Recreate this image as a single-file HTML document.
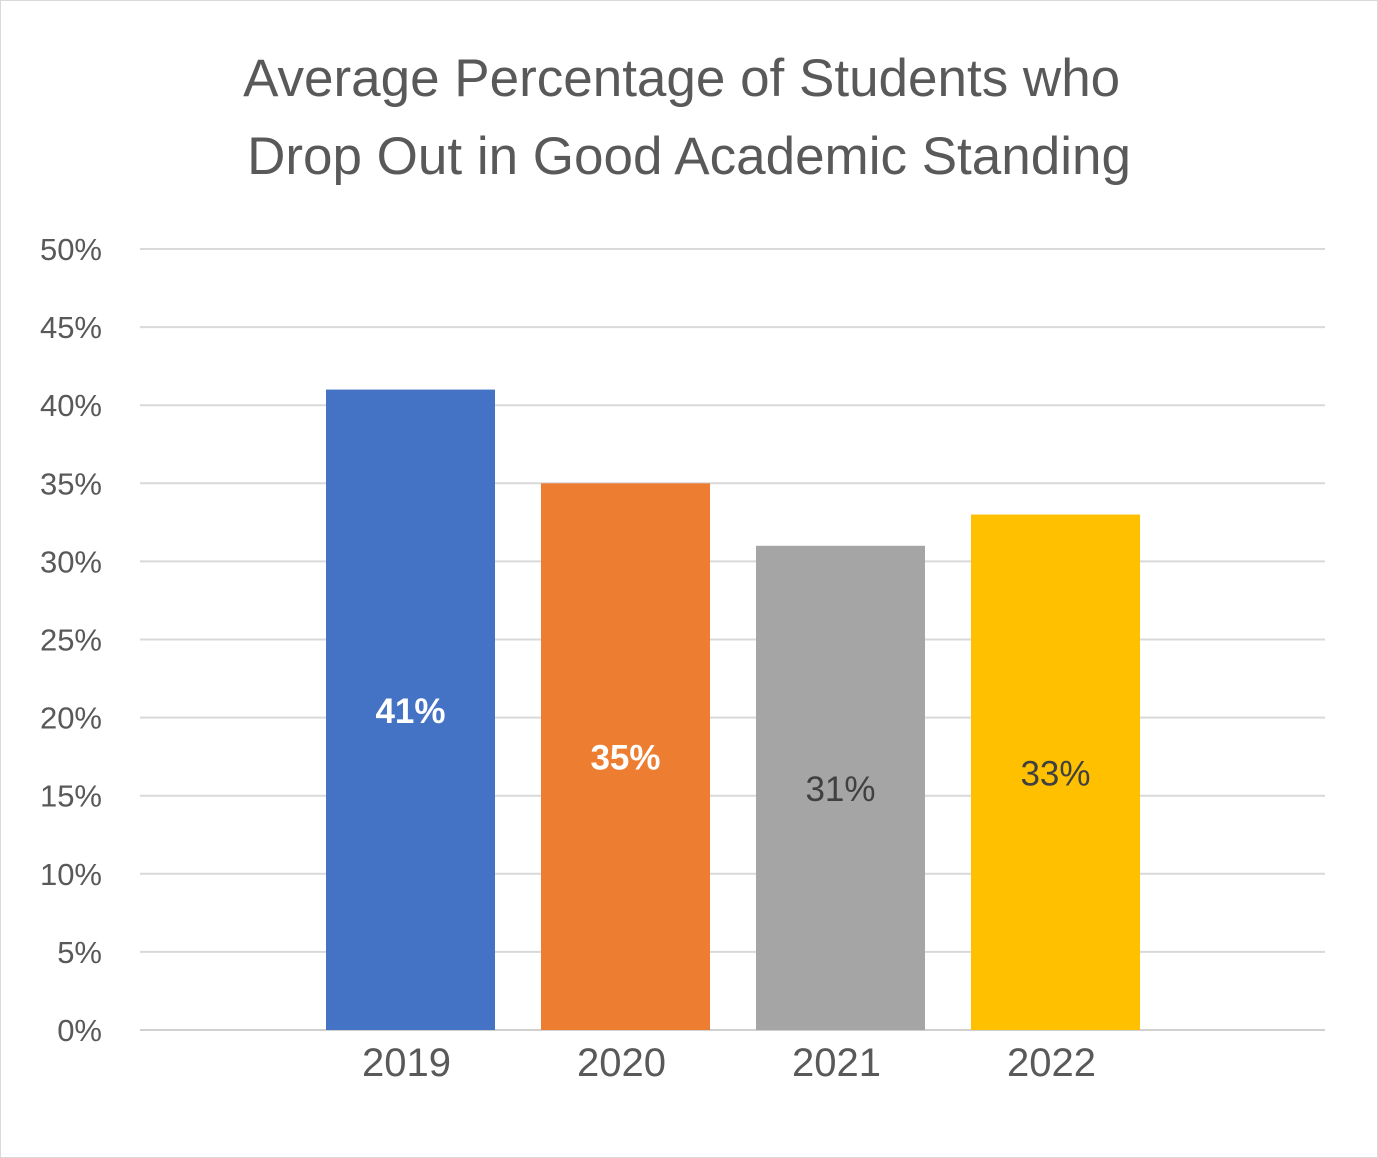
<!DOCTYPE html>
<html><head><meta charset="utf-8"><style>
html,body{margin:0;padding:0;background:#fff;}
svg{display:block;font-family:"Liberation Sans",sans-serif;}
</style></head><body>
<svg id="chart" width="1378" height="1158" viewBox="0 0 1378 1158" xmlns="http://www.w3.org/2000/svg">
<rect x="0.5" y="0.5" width="1377" height="1157" fill="#fff" stroke="#d9d9d9"/>
<text text-anchor="middle" fill="#595959" font-size="53">
<tspan x="689" y="96">Average Percentage of Students who</tspan>
<tspan x="689" y="174">Drop Out in Good Academic Standing</tspan>
</text>
<g id="grid"></g>
<g id="yticks"></g>
<g id="bars"></g>
<g id="xticks"></g>
</svg>
<script>
const categories = ["2019","2020","2021","2022"];
const values = [41,35,31,33];
const valueLabels = ["41%","35%","31%","33%"];
const yTicks = [0,5,10,15,20,25,30,35,40,45,50];
const colors = ["#4472c4","#ed7d31","#a5a5a5","#ffc000"];
const labelColors = ["#fff","#fff","#404040","#404040"];
const labelBold = [true,true,false,false];

const NS="http://www.w3.org/2000/svg";
const y0=1030, y1=249, yMax=50, xL=140, xR=1325;
const yScale=v=>y0-(v/yMax)*(y0-y1);
const xCenter=i=>410.5+i*215;
const bw=169;
function mk(tag,attrs,parent){const e=document.createElementNS(NS,tag);for(const k in attrs)e.setAttribute(k,attrs[k]);parent.appendChild(e);return e;}
const grid=document.getElementById('grid'),yt=document.getElementById('yticks'),bars=document.getElementById('bars'),xt=document.getElementById('xticks');
yTicks.forEach(t=>{
  const y=yScale(t);
  const l=mk('line',{x1:xL,x2:xR,y1:y,y2:y,stroke:t===0?'#d0d0d0':'#d9d9d9','stroke-width':2},grid);
  
  
  const tx=mk('text',{x:102,y:y+11,'text-anchor':'end','font-size':31,fill:'#595959'},yt);
  tx.textContent=t+'%';
  
  
});
categories.forEach((c,i)=>{
  const cx=xCenter(i), top=yScale(values[i]);
  const r=mk('rect',{x:cx-bw/2,y:top,width:bw,height:y0-top,fill:colors[i]},bars);
  
  
  const vl=mk('text',{x:cx,y:(top+y0)/2+13,'text-anchor':'middle','font-size':35,fill:labelColors[i],'font-weight':labelBold[i]?'bold':'normal'},bars);
  vl.textContent=valueLabels[i];
  
  
  const xl=mk('text',{x:cx-4,y:1076,'text-anchor':'middle','font-size':40,fill:'#595959'},xt);
  xl.textContent=c;
  
  
});
</script>
</body></html>
